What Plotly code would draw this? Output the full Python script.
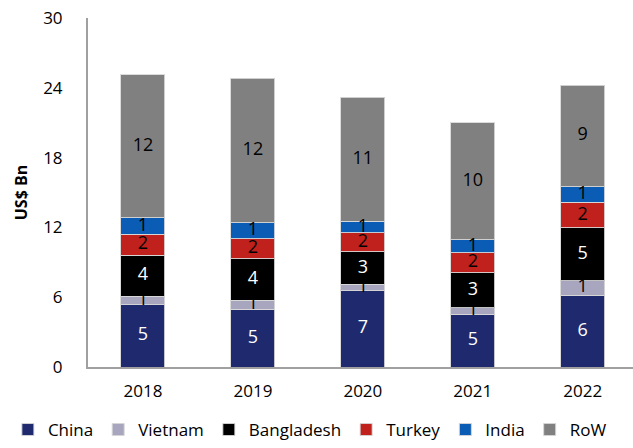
import plotly.graph_objects as go

years = ["2018", "2019", "2020", "2021", "2022"]
series_names = ["China", "Vietnam", "Bangladesh", "Turkey", "India", "RoW"]
china = [5.34, 4.97, 6.55, 4.54, 6.18]
vietnam = [0.75, 0.75, 0.55, 0.55, 1.23]
bangladesh = [3.51, 3.59, 2.81, 3.01, 4.55]
turkey = [1.81, 1.72, 1.61, 1.73, 2.2]
india = [1.41, 1.38, 1.01, 1.09, 1.35]
row = [12.3, 12.4, 10.65, 10.08, 8.73]
values = [china, vietnam, bangladesh, turkey, india, row]
colors = ["#1f2a6e", "#a8a6be", "#000000", "#c0211c", "#0b5cb5", "#808080"]
text_colors = ["white", "black", "white", "black", "black", "black"]

fig = go.Figure()
base = [0.0] * len(years)
for name, vals, c, tc in zip(series_names, values, colors, text_colors):
    fig.add_trace(go.Bar(
        x=years, y=vals, name=name,
        marker=dict(color=c, line=dict(color="rgba(215,215,215,0.9)", width=1)),
        textposition="none", hoverinfo="skip",
        width=0.4,
    ))
    mids = [b + v / 2 for b, v in zip(base, vals)]
    fig.add_trace(go.Scatter(
        x=years, y=mids, mode="text", text=[f"{v:.0f}" for v in vals],
        textfont=dict(color=tc, size=18, family="Open Sans"),
        showlegend=False, hoverinfo="skip",
    ))
    base = [b + v for b, v in zip(base, vals)]

fig.update_layout(
    barmode="stack",
    width=633, height=448,
    margin=dict(l=88, r=0, t=18, b=81),
    paper_bgcolor="white", plot_bgcolor="white",
    font=dict(family="Open Sans", size=16, color="black"),
    showlegend=True,
    legend=dict(orientation="h", x=-0.147, xanchor="left",
                y=-0.232, yanchor="bottom",
                font=dict(size=17), traceorder="normal", itemwidth=30),
)
fig.update_xaxes(
    type="category", range=[-0.5, 4.457],
    showline=True, linecolor="#a0a0a0", linewidth=2,
    ticks="outside", ticklen=8, tickcolor="rgba(0,0,0,0)",
    tickfont=dict(size=17), showgrid=False,
)
fig.update_yaxes(
    range=[0, 30], tickvals=[0, 6, 12, 18, 24, 30],
    showline=True, linecolor="#a0a0a0", linewidth=2,
    ticks="outside", ticklen=20, tickcolor="rgba(0,0,0,0)",
    tickfont=dict(size=17), showgrid=False, zeroline=False,
    title=dict(text="<b>US$ Bn</b>", font=dict(size=16), standoff=12),
)

fig.write_html("out.html")
